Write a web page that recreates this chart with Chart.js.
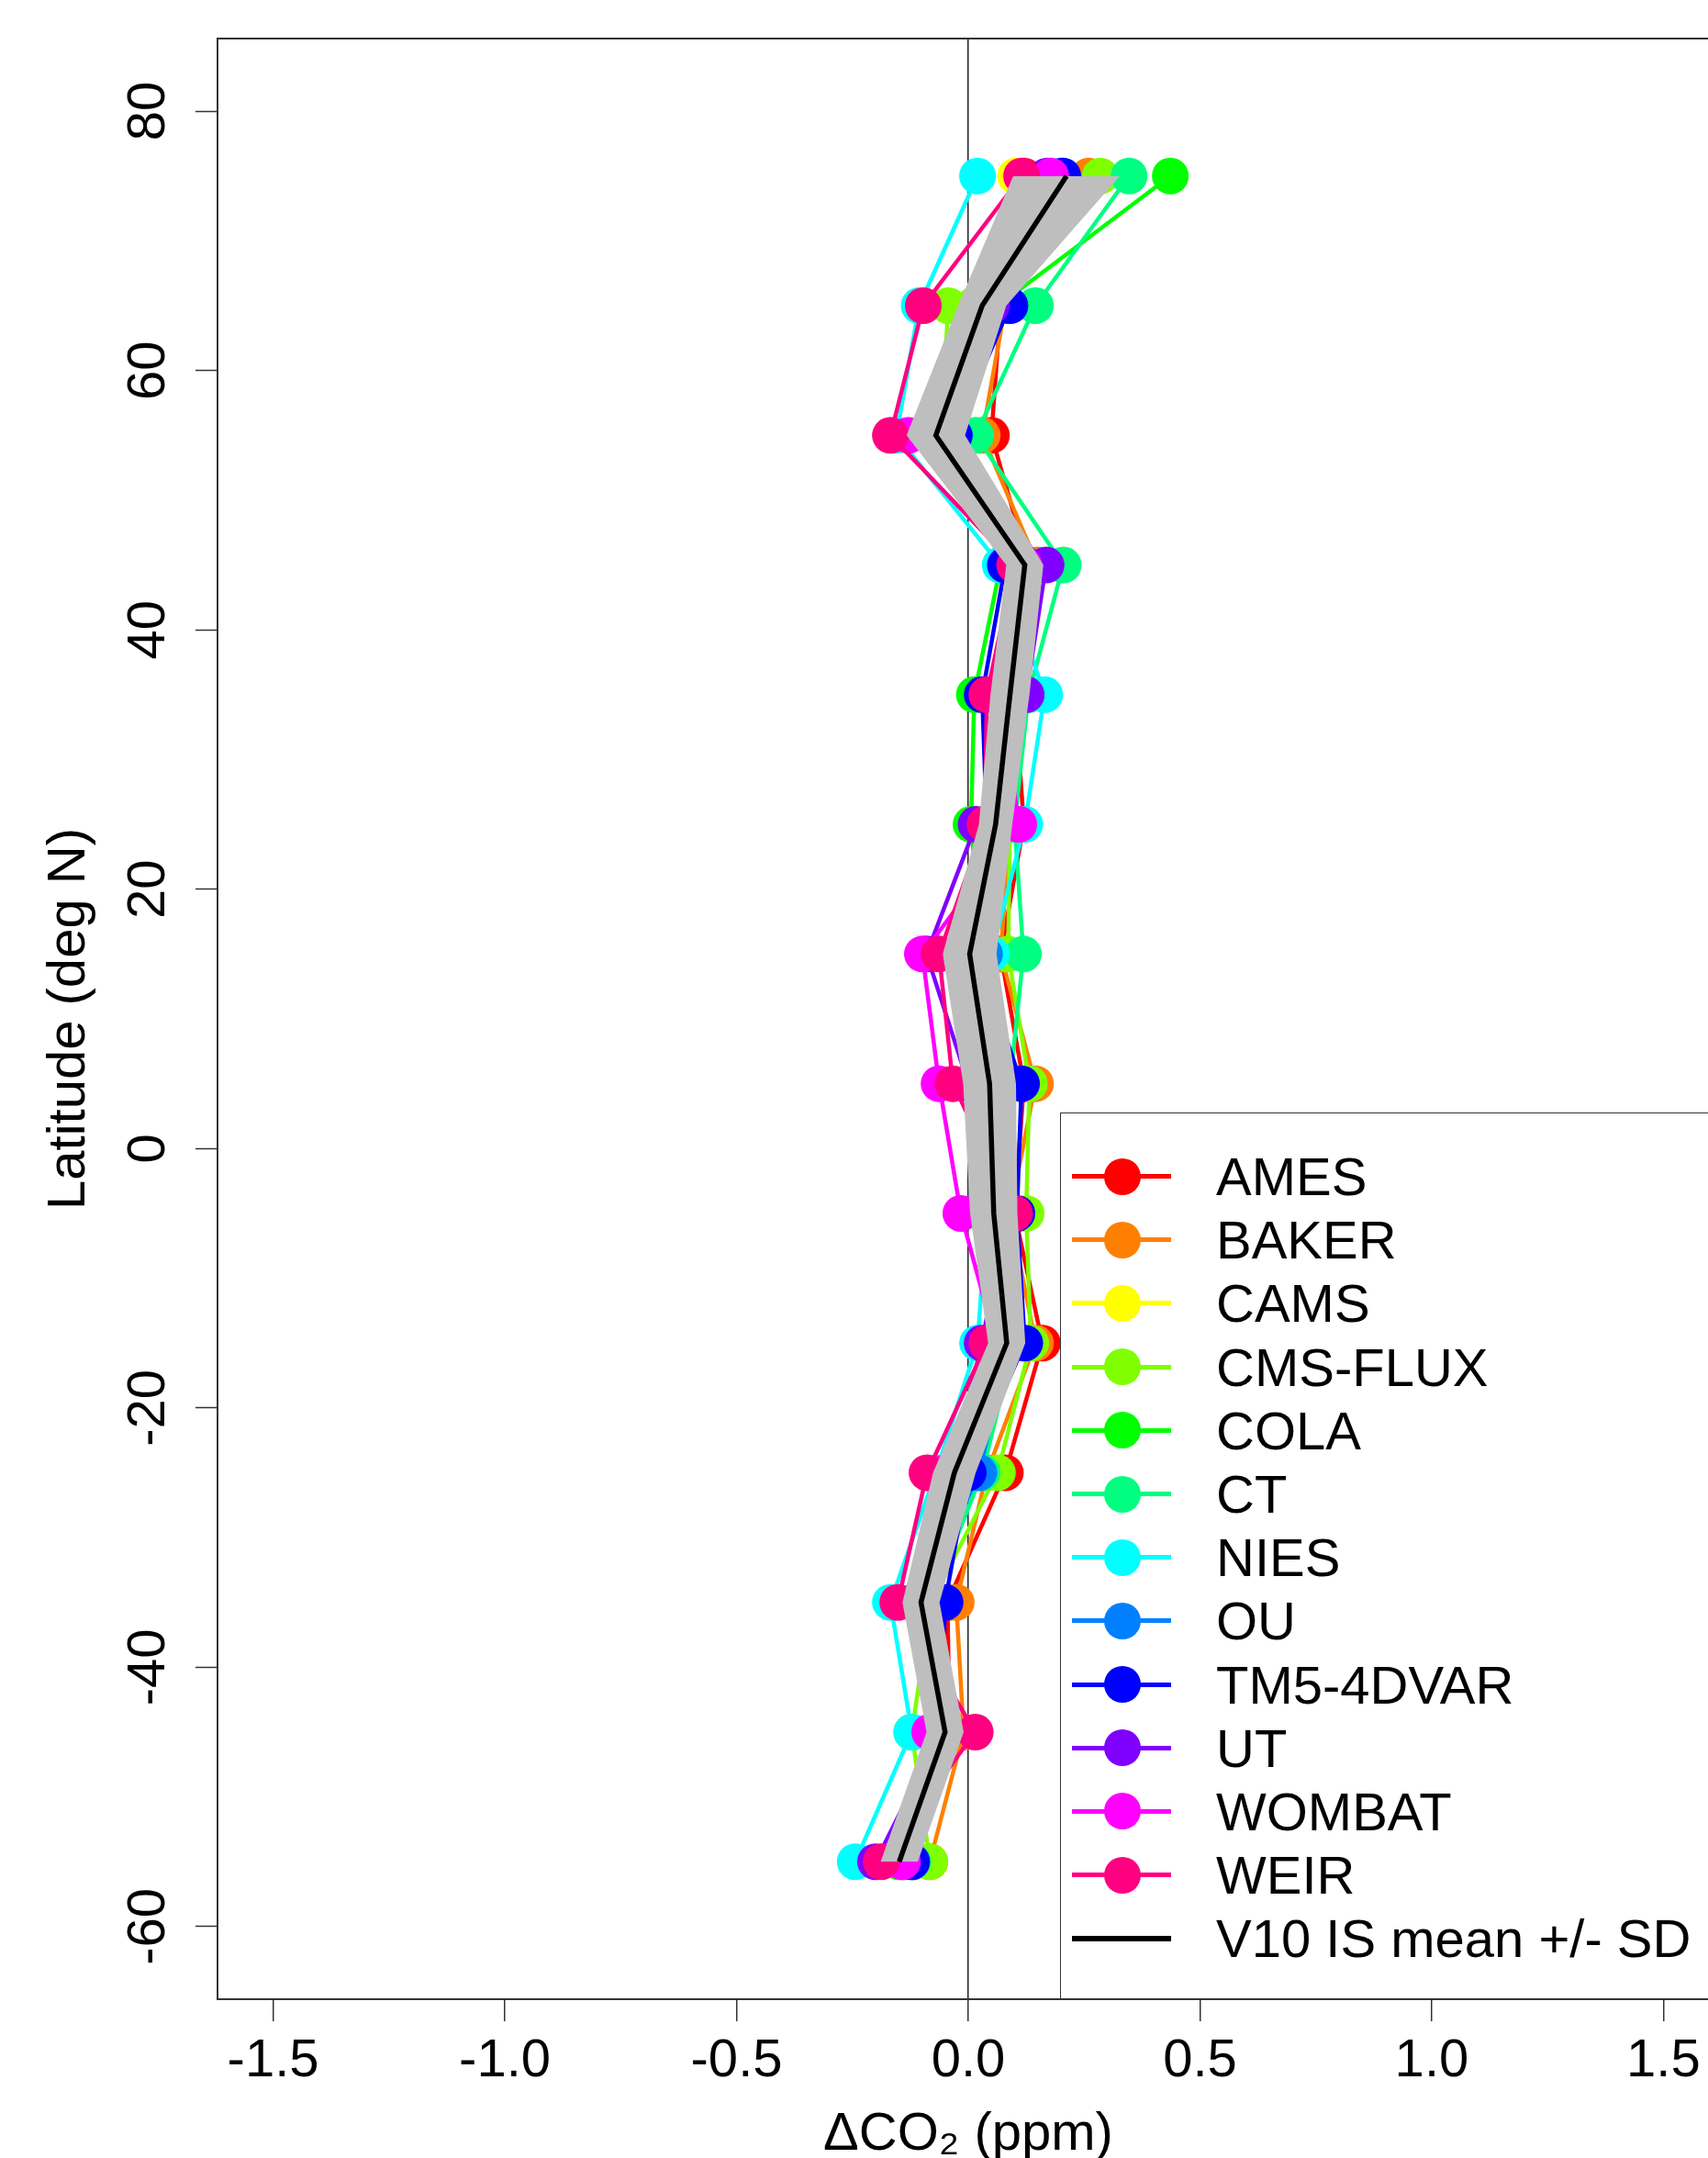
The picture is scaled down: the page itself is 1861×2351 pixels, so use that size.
<!DOCTYPE html>
<html>
<head>
<meta charset="utf-8">
<script src="https://cdn.jsdelivr.net/npm/chart.js@4.4.1/dist/chart.umd.min.js"></script>
<style>
  body { margin: 0; overflow: hidden; background: #fff; }
  #wrap { position: relative; width: 1893px; height: 2351px; }
  #legend { position: absolute; border: 1.5px solid #333; box-sizing: border-box; padding-top: 34px;
            font: 58px "Liberation Sans", Arial, sans-serif; color: #000; }
  .item { position: relative; height: 69.2px; }
  .item .ln { position: absolute; left: 12px; width: 108px; top: 50%; height: 5px; margin-top: -2.5px; }
  .item .dot { position: absolute; left: 46.5px; width: 40px; height: 40px; top: 50%; margin-top: -20px; border-radius: 50%; }
  .item .tx { position: absolute; left: 169px; top: 0; line-height: 69.2px; white-space: nowrap; }
</style>
</head>
<body>
<div id="wrap">
  <canvas id="myChart" width="1893" height="2351"></canvas>
  <div id="legend"></div>
</div>
<script>
const latitudes = [75, 65, 55, 45, 35, 25, 15, 5, -5, -15, -25, -35, -45, -55];

const models = ['AMES', 'BAKER', 'CAMS', 'CMS-FLUX', 'COLA', 'CT', 'NIES', 'OU', 'TM5-4DVAR', 'UT', 'WOMBAT', 'WEIR'];
const modelColors = ['#FF0000', '#FF8000', '#FFFF00', '#80FF00', '#00FF00', '#00FF80',
                     '#00FFFF', '#0080FF', '#0000FF', '#8000FF', '#FF00FF', '#FF0080'];

// delta CO2 (ppm) per latitude band, 75N down to 55S
const ames    = [0.12, 0.07, 0.05, 0.13, 0.10, 0.12, 0.07, 0.12, 0.10, 0.16, 0.08, -0.045, -0.04, -0.12];
const baker   = [0.26, 0.08, 0.03, 0.15, 0.11, 0.09, 0.07, 0.145, 0.09, 0.145, 0.04, -0.026, -0.01, -0.083];
const cams    = [0.102, 0.03, -0.05, 0.12, 0.08, 0.04, 0.0, 0.05, 0.06, 0.09, -0.02, -0.10, -0.05, -0.15];
const cmsFlux = [0.285, -0.043, -0.06, 0.12, 0.10, 0.09, 0.086, 0.132, 0.125, 0.135, 0.063, -0.08, -0.122, -0.083];
const cola    = [0.436, 0.065, -0.02, 0.07, 0.013, 0.006, 0.03, 0.02, 0.03, 0.05, -0.02, -0.10, -0.08, -0.15];
const ct      = [0.347, 0.145, 0.016, 0.205, 0.13, 0.10, 0.119, 0.09, 0.08, 0.10, 0.03, -0.08, -0.05, -0.12];
const nies    = [0.02, -0.106, -0.155, 0.069, 0.165, 0.122, 0.05, 0.06, 0.04, 0.02, -0.07, -0.168, -0.122, -0.244];
const ou      = [0.20, 0.03, -0.07, 0.10, 0.08, 0.06, 0.035, 0.05, 0.06, 0.09, 0.023, -0.10, -0.05, -0.14];
const tm5     = [0.204, 0.09, -0.03, 0.08, 0.03, 0.04, 0.02, 0.115, 0.105, 0.122, 0.0, -0.05, -0.06, -0.122];
const ut      = [0.17, 0.05, -0.08, 0.168, 0.125, 0.017, -0.09, 0.0, 0.08, 0.03, -0.04, -0.12, -0.06, -0.20];
const wombat  = [0.178, 0.03, -0.129, 0.12, 0.07, 0.109, -0.099, -0.063, -0.016, 0.06, -0.05, -0.12, -0.083, -0.142];
const weir    = [0.115, -0.097, -0.168, 0.10, 0.04, 0.036, -0.063, -0.033, 0.10, 0.04, -0.089, -0.152, 0.015, -0.188];
const modelValues = [ames, baker, cams, cmsFlux, cola, ct, nies, ou, tm5, ut, wombat, weir];

// V10 in-situ mean and standard deviation
const meanV10 = [0.212, 0.03, -0.07, 0.122, 0.09, 0.059, 0.003, 0.046, 0.055, 0.083, -0.03, -0.102, -0.05, -0.149];
const sdV10   = [0.115, 0.052, 0.063, 0.04, 0.042, 0.036, 0.058, 0.057, 0.051, 0.04, 0.046, 0.04, 0.04, 0.04];

const xTickValues = [-1.5, -1.0, -0.5, 0.0, 0.5, 1.0, 1.5];
const yTickValues = [-60, -40, -20, 0, 20, 40, 60, 80];

const fontFamily = '"Liberation Sans", Arial, Helvetica, sans-serif';

function toPoints(values) {
    return values.map((v, i) => ({ x: v, y: latitudes[i] }));
}

let datasets = models.map((name, i) => ({
    label: name,
    data: toPoints(modelValues[i]),
    borderColor: modelColors[i],
    backgroundColor: modelColors[i],
    pointBackgroundColor: modelColors[i],
    pointBorderColor: modelColors[i],
    pointBorderWidth: 0,
    pointRadius: 20,
    borderWidth: 4.5,
    tension: 0,
    fill: false,
    order: 30 - i
}));

// gray band: mean +/- SD
datasets.push({
    label: 'upper',
    data: toPoints(meanV10.map((m, i) => m + sdV10[i])),
    borderColor: 'rgba(0,0,0,0)',
    backgroundColor: '#BEBEBE',
    borderWidth: 0,
    pointRadius: 0,
    fill: '+1',
    order: 2
});
datasets.push({
    label: 'lower',
    data: toPoints(meanV10.map((m, i) => m - sdV10[i])),
    borderColor: 'rgba(0,0,0,0)',
    backgroundColor: '#BEBEBE',
    borderWidth: 0,
    pointRadius: 0,
    fill: false,
    order: 2
});
datasets.push({
    label: 'V10 IS mean +/- SD',
    data: toPoints(meanV10),
    borderColor: '#000',
    borderWidth: 5.5,
    pointRadius: 0,
    fill: false,
    order: 0
});

const plotBox = {
    id: 'plotBox',
    afterDatasetsDraw(chart) {
        const {ctx, chartArea: a} = chart;
        ctx.save();
        ctx.strokeStyle = '#333';
        ctx.lineWidth = 2;
        ctx.strokeRect(a.left, a.top, a.right - a.left, a.bottom - a.top);
        ctx.restore();
    }
};

const myChart = document.getElementById('myChart');

// the 20px point radius forces 20px of right padding
let profileChart = new Chart(myChart, {
    type: 'line',
    data: { datasets: datasets },
    plugins: [plotBox],
    options: {
        responsive: false,
        animation: false,
        events: [],
        indexAxis: 'y',
        layout: { padding: { top: 42, right: 20, left: 0, bottom: 0 } },
        plugins: {
            legend: { display: false },
            tooltip: { enabled: false }
        },
        scales: {
            x: {
                type: 'linear',
                position: 'bottom',
                min: -1.62,
                max: 1.62,
                afterBuildTicks: s => { s.ticks = xTickValues.map(v => ({ value: v })); },
                afterFit: s => { s.height = 173; s.paddingLeft = 0; s.paddingRight = 0; },
                border: { display: false },
                grid: {
                    drawOnChartArea: true,
                    color: c => (c.tick && c.tick.value === 0) ? '#222' : 'rgba(0,0,0,0)',
                    lineWidth: 1.5,
                    tickLength: 24,
                    tickColor: '#333',
                    tickWidth: 1.5
                },
                ticks: {
                    autoSkip: false,
                    maxRotation: 0,
                    padding: 9,
                    color: '#000',
                    font: { family: fontFamily, size: 58 },
                    callback: v => v.toFixed(1)
                },
                title: {
                    display: true,
                    text: 'ΔCO₂ (ppm)',
                    color: '#000',
                    font: { family: fontFamily, size: 58, lineHeight: 0.86 },
                    padding: 0
                }
            },
            y: {
                type: 'linear',
                position: 'left',
                min: -65.6,
                max: 85.6,
                afterBuildTicks: s => { s.ticks = yTickValues.map(v => ({ value: v })); },
                afterFit: s => { s.width = 237; s.paddingTop = 0; s.paddingBottom = 0; },
                border: { display: false },
                grid: {
                    drawOnChartArea: false,
                    tickLength: 24,
                    tickColor: '#333',
                    tickWidth: 1.5
                },
                ticks: {
                    autoSkip: false,
                    minRotation: 90,
                    maxRotation: 90,
                    crossAlign: 'center',
                    padding: 8,
                    color: '#000',
                    font: { family: fontFamily, size: 58 },
                    callback: v => String(v)
                },
                title: {
                    display: true,
                    text: 'Latitude (deg N)',
                    color: '#000',
                    font: { family: fontFamily, size: 58, lineHeight: 1 },
                    padding: { top: 47, bottom: 0 }
                }
            }
        }
    }
});

// legend box in the bottom right corner of the plot
const legendEl = document.getElementById('legend');
const area = profileChart.chartArea;
legendEl.style.left = (area.right - 718) + 'px';
legendEl.style.top = (area.bottom - 966) + 'px';
legendEl.style.width = '760px';
legendEl.style.height = '967px';

let legendHtml = '';
models.forEach((name, i) => {
    legendHtml += `<div class="item"><div class="ln" style="background:${modelColors[i]}"></div>` +
        `<div class="dot" style="background:${modelColors[i]}"></div><div class="tx">${name}</div></div>`;
});
legendHtml += `<div class="item"><div class="ln" style="background:#000;height:6px;margin-top:-3px"></div>` +
    `<div class="tx">V10 IS mean +/- SD</div></div>`;
legendEl.innerHTML = legendHtml;
</script>
</body>
</html>
